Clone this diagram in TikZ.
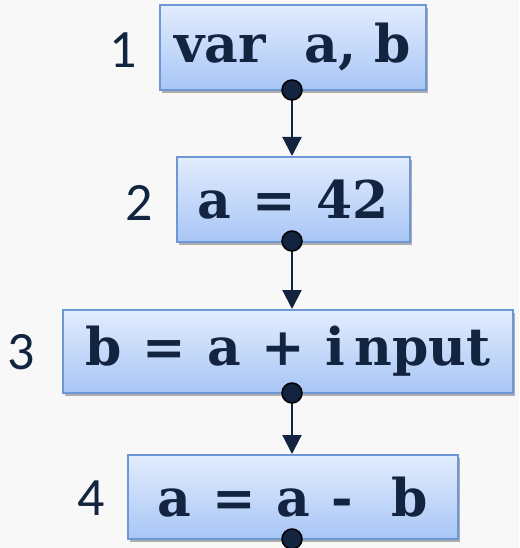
\documentclass[tikz,border=0pt]{standalone}
\usepackage{fontspec}
\setmainfont{DejaVu Serif}
\newfontfamily\numfont{Carlito}
\usetikzlibrary{arrows.meta,shadows}
\definecolor{ink}{HTML}{12243F}
\definecolor{boxline}{HTML}{6D98D3}
\definecolor{boxtop}{HTML}{E2ECFD}
\definecolor{boxbot}{HTML}{A8C6F6}
\definecolor{bg}{HTML}{F8F8F8}
\newcommand{\gap}{\hspace{0.4em}}
\begin{document}
\begin{tikzpicture}[x=1pt,y=-1pt,
  box/.style={draw=boxline, line width=2pt, top color=boxtop, bottom color=boxbot,
    drop shadow={shadow xshift=2pt, shadow yshift=-3pt, opacity=0.3, fill=black},
    inner sep=0pt, text=ink, font=\bfseries\fontsize{52}{52}\selectfont},
  numlabel/.style={text=ink, font=\numfont\fontsize{54}{54}\selectfont, inner sep=0pt},
  dotst/.style={circle, fill=ink, draw=black, line width=1.5pt, minimum size=20pt, inner sep=0pt},
  flow/.style={draw=ink, line width=2.2pt, -{Triangle[width=19pt,length=19pt]}}
]
\fill[bg] (0,0) rectangle (519,548);
\useasboundingbox (0,0) rectangle (519,548);

\node[box, minimum width=266pt, minimum height=85pt] (b1) at (293,47.5) {var\gap\ a, b};
\node[box, minimum width=233pt, minimum height=85pt] (b2) at (293.5,199.5) {a\gap=\gap 42};
\node[box, minimum width=450pt, minimum height=83pt] (b3) at (288,351.5) {b\gap=\gap a\gap+\gap i\,nput};
\node[box, minimum width=330pt, minimum height=84pt] (b4) at (293,497) {a\gap=\gap a\gap -\gap\ b};

\node[numlabel] (l1) at (123,50) {1};
\node[numlabel] (l2) at (139,203) {2};
\node[numlabel] (l3) at (21,352) {3};
\node[numlabel] (l4) at (91,498) {4};

\coordinate (c1) at (292,90);
\coordinate (c2) at (292,241);
\coordinate (c3) at (292,393);
\coordinate (c4) at (292,539);

\draw[flow] (c1) -- (c1 |- b2.north);
\draw[flow] (c2) -- (c2 |- b3.north);
\draw[flow] (c3) -- (c3 |- b4.north);

\node[dotst] (d1) at (c1) {};
\node[dotst] (d2) at (c2) {};
\node[dotst] (d3) at (c3) {};
\node[dotst] (d4) at (c4) {};
\end{tikzpicture}
\end{document}
